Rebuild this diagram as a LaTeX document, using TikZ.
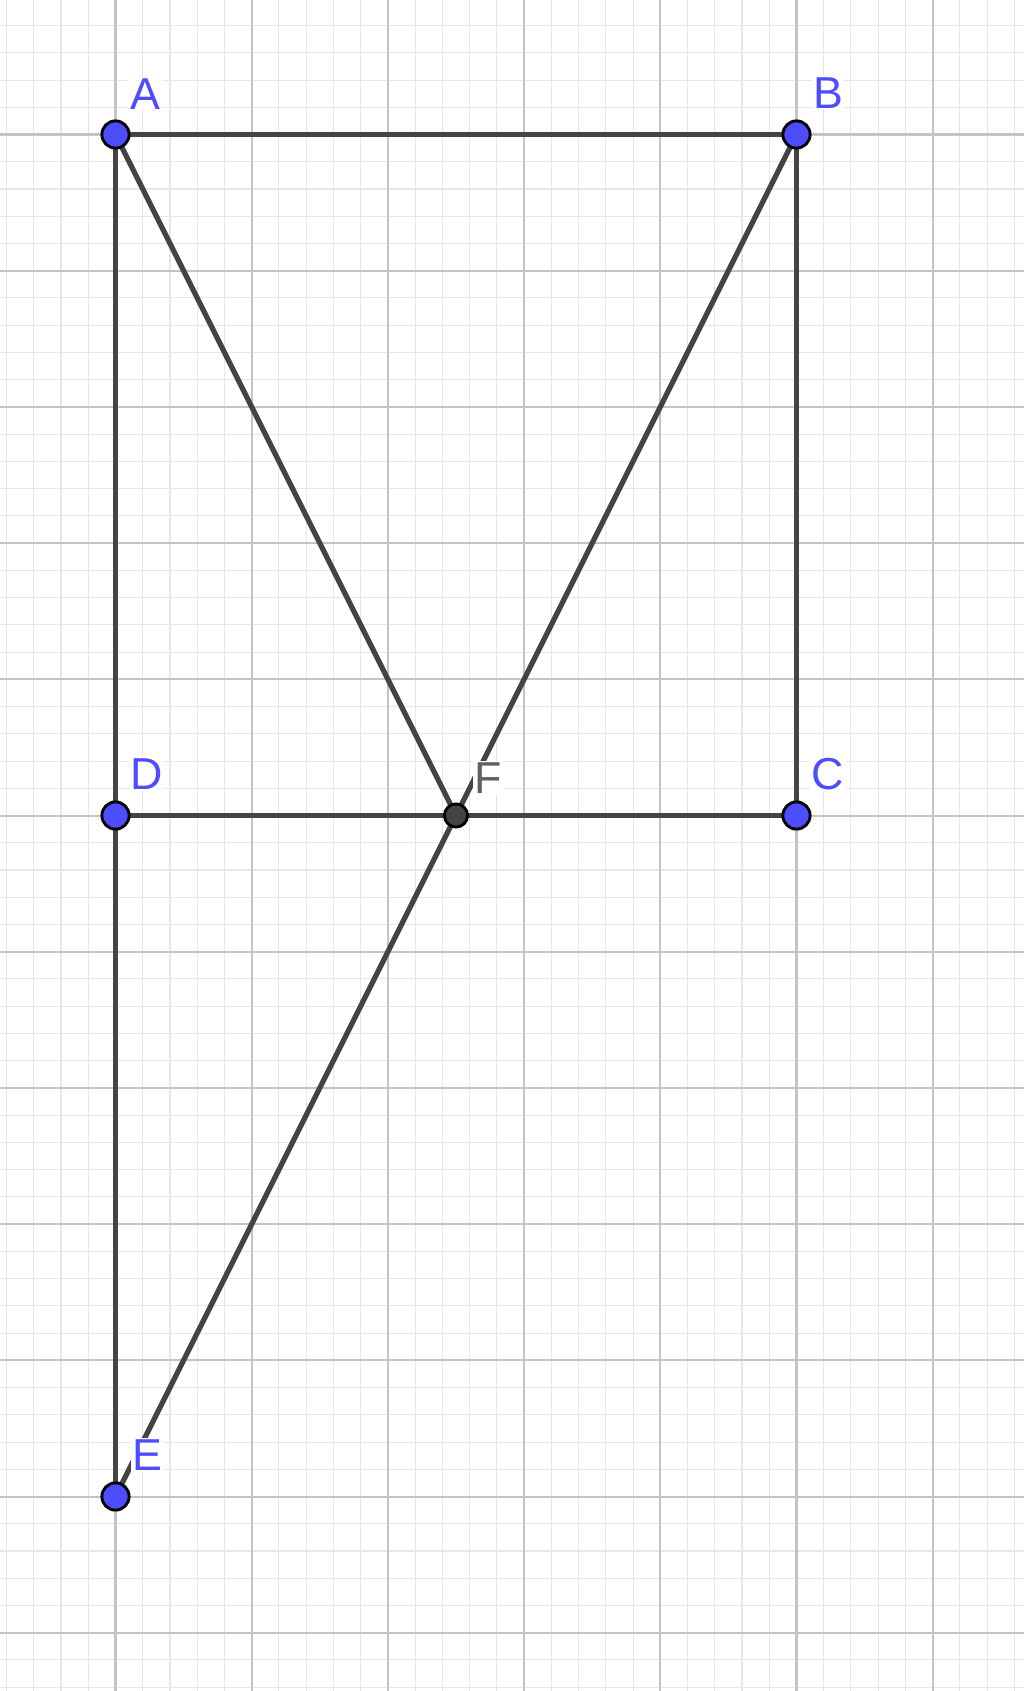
\documentclass[tikz,border=0pt]{standalone}
\usepackage{fontspec}
\setmainfont{Liberation Sans}
\usetikzlibrary{calc}
\definecolor{ptblue}{HTML}{4D4DFF}
\definecolor{seggray}{HTML}{444444}
\definecolor{ptgray}{HTML}{444444}
\definecolor{lblgray}{HTML}{606060}
\definecolor{minorgrid}{HTML}{E6E6E6}
\definecolor{majorgrid}{HTML}{C4C4C4}
\tikzset{
  seg/.style={draw=seggray, line width=1.1pt},
  ptb/.style={circle, draw=black, fill=ptblue, line width=0.6pt, minimum size=0.2cm, inner sep=0pt},
  ptg/.style={circle, draw=black, fill=ptgray, line width=0.6pt, minimum size=0.17cm, inner sep=0pt},
  lbl/.style={anchor=base west, inner sep=0.3pt, fill=white, text=ptblue, font=\fontsize{9.35}{11}\selectfont},
}
\begin{document}
\begin{tikzpicture}
\useasboundingbox (-0.848,-1.428) rectangle (6.670,10.9875);
\fill[white] (-0.848,-1.428) rectangle (6.670,10.9875);
\begin{scope}
\clip (-0.848,-1.428) rectangle (6.670,10.9875);
\draw[minorgrid, line width=0.22pt, step=0.2] (-1,-1.6) grid (7,11.2);
\draw[majorgrid, line width=0.42pt, step=1] (-1,-2) grid (7,11);
\end{scope}
\coordinate (A) at (0,10);
\coordinate (B) at (5,10);
\coordinate (C) at (5,5);
\coordinate (D) at (0,5);
\coordinate (E) at (0,0);
\coordinate (F) at (2.5,5);
\draw[seg] (A) -- (B);
\draw[seg] (B) -- (C);
\draw[seg] (D) -- (C);
\draw[seg] (A) -- (D);
\draw[seg] (D) -- (E);
\draw[seg] (A) -- (F);
\draw[seg] (B) -- (F);
\draw[seg] (F) -- (E);
\node[lbl] (lA) at ($(A)+(0.092,0.187)$) {A};
\node[lbl] (lB) at ($(B)+(0.105,0.19)$) {B};
\node[lbl] (lC) at ($(C)+(0.095,0.19)$) {C};
\node[lbl] (lD) at ($(D)+(0.092,0.19)$) {D};
\node[lbl] (lE) at ($(E)+(0.107,0.19)$) {E};
\node[lbl, text=lblgray] (lF) at ($(F)+(0.115,0.16)$) {F};
\node[ptb] (pA) at (A) {};
\node[ptb] (pB) at (B) {};
\node[ptb] (pC) at (C) {};
\node[ptb] (pD) at (D) {};
\node[ptb] (pE) at (E) {};
\node[ptg] (pF) at (F) {};
\end{tikzpicture}
\end{document}
